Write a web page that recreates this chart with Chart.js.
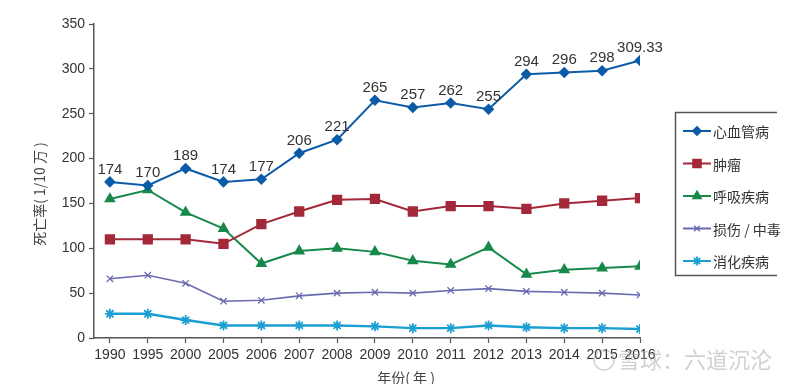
<!DOCTYPE html>
<html>
<head>
<meta charset="utf-8">
<script src="https://cdn.jsdelivr.net/npm/chart.js@4/dist/chart.umd.min.js"></script>
<style>
  html, body { margin: 0; padding: 0; background: #fff; }
  #wrap { width: 800px; height: 384px; }
</style>
</head>
<body>
<div id="wrap"><canvas id="chart" width="800" height="384"></canvas></div>
<script>
/* ============ Data ============ */
const YEARS = ["1990", "1995", "2000", "2005", "2006", "2007", "2008", "2009", "2010", "2011", "2012", "2013", "2014", "2015", "2016"];
const CARDIO = [174, 170, 189, 174, 177, 206, 221, 265, 257, 262, 255, 294, 296, 298, 309.33];
const CARDIO_LABELS = ["174", "170", "189", "174", "177", "206", "221", "265", "257", "262", "255", "294", "296", "298", "309.33"];
const TUMOR = [110, 110, 110, 105, 127, 141, 154, 155, 141, 147, 147, 144, 150, 153, 156];
const RESP = [155, 165, 140, 122, 83, 97, 100, 96, 86, 82, 101, 71, 76, 78, 80];
const INJURY = [66, 70, 61, 41, 42, 47, 50, 51, 50, 53, 55, 52, 51, 50, 48];
const DIGEST = [27, 27, 20, 14, 14, 14, 14, 13, 11, 11, 14, 12, 11, 11, 10];
const SERIES_NAMES = ["心血管病", "肿瘤", "呼吸疾病", "损伤 / 中毒", "消化疾病"];
const Y_TICKS = [0, 50, 100, 150, 200, 250, 300, 350];

const FONT = "'Liberation Sans', Arial, sans-serif";
const CJK = "'Noto Sans CJK SC', 'Liberation Sans', sans-serif";
const TEXT = "#333";

const pts = arr => arr.map((v, i) => ({x: i, y: v}));

const SERIES = [
    {data: CARDIO, color: "#0c5ba7", style: "rectRot", r: 4.5, bw: 2},
    {data: TUMOR, color: "#a3283a", style: "rect", r: 6, bw: 2},
    {data: RESP, color: "#17894b", style: "triangle", r: 5, bw: 2},
    {data: INJURY, color: "#6a6ab0", style: "crossRot", r: 4.5, bw: 1.6},
    {data: DIGEST, color: "#1a9fd3", style: "star", r: 5, bw: 2.4},
];

/* ============ Plugins ============ */
const valueLabels = {
    id: "valueLabels",
    afterDatasetsDraw(chart) {
        const ctx = chart.ctx;
        const meta = chart.getDatasetMeta(0);
        ctx.save();
        ctx.font = "15px " + FONT;
        ctx.fillStyle = TEXT;
        ctx.textAlign = "center";
        ctx.textBaseline = "bottom";
        meta.data.forEach((p, i) => ctx.fillText(CARDIO_LABELS[i], p.x, p.y - 5));
        ctx.restore();
    }
};

const extras = {
    id: "extras",
    afterDraw(chart) {
        const ctx = chart.ctx;
        ctx.save();
        // axis titles
        ctx.fillStyle = "#444";
        ctx.font = "14px " + CJK;
        ctx.textAlign = "center";
        ctx.textBaseline = "middle";
        ctx.fillText("年份( 年 )", 406, 378);
        ctx.save();
        ctx.translate(40, 194);
        ctx.rotate(-Math.PI / 2);
        ctx.fillText("死亡率( 1/10 万 )", 0, 0);
        ctx.restore();

        // legend box
        ctx.strokeStyle = "#555";
        ctx.lineWidth = 1.5;
        ctx.beginPath();
        ctx.moveTo(777, 112.5);
        ctx.lineTo(675.5, 112.5);
        ctx.lineTo(675.5, 275.5);
        ctx.lineTo(777, 275.5);
        ctx.stroke();

        ctx.font = "14px " + CJK;
        ctx.textAlign = "left";
        SERIES.forEach((s, i) => {
            const y = 131 + i * 32.5;
            ctx.strokeStyle = s.color;
            ctx.lineWidth = 2;
            ctx.beginPath();
            ctx.moveTo(683, y);
            ctx.lineTo(711, y);
            ctx.stroke();
            ctx.fillStyle = s.color;
            ctx.lineWidth = s.style === "crossRot" ? 1.4 : 1.8;
            Chart.helpers.drawPoint(ctx, {pointStyle: s.style, radius: s.r - 0.5, borderWidth: 1}, 697, y);
            ctx.fillStyle = TEXT;
            ctx.fillText(SERIES_NAMES[i], 713, y + 1);
        });

        // watermark
        ctx.fillStyle = "rgba(150,150,150,0.45)";
        ctx.font = "22px " + CJK;
        ctx.textAlign = "left";
        ctx.fillText("雪球：六道沉沦", 618, 360);
        ctx.strokeStyle = "rgba(150,150,150,0.45)";
        ctx.lineWidth = 1.5;
        ctx.beginPath();
        ctx.arc(604, 360, 10, 0, Math.PI * 2);
        ctx.stroke();
        ctx.restore();
    }
};

/* ============ Chart ============ */
new Chart(document.getElementById("chart"), {
    type: "line",
    data: {
        datasets: SERIES.map((s, i) => ({
            label: SERIES_NAMES[i],
            data: pts(s.data),
            borderColor: s.color,
            backgroundColor: s.color,
            borderWidth: s.bw,
            pointStyle: s.style,
            pointRadius: s.r,
            pointBorderColor: s.color,
            pointBackgroundColor: s.color,
            pointBorderWidth: s.style === "crossRot" ? 1.3 : 1.8,
            tension: 0,
            fill: false
        }))
    },
    options: {
        responsive: false,
        animation: false,
        layout: {padding: {left: 34, right: 160, top: 24, bottom: 0}},
        plugins: {legend: {display: false}, tooltip: {enabled: false}},
        scales: {
            x: {
                type: "linear",
                min: -0.42,
                max: YEARS.length - 1,
                afterFit: s => { s.height = 46; },
                afterBuildTicks: s => { s.ticks = YEARS.map((_, i) => ({value: i})); },
                grid: {display: true, drawOnChartArea: false, tickLength: 5, color: "#555", tickWidth: 1.2},
                border: {display: true, color: "#555", width: 1.5},
                ticks: {
                    callback: v => YEARS[v] ?? "",
                    color: TEXT,
                    font: {family: FONT, size: 14},
                    padding: 4,
                    maxRotation: 0,
                    autoSkip: false
                }
            },
            y: {
                min: 0,
                max: 350,
                afterFit: s => { s.width = 60; },
                afterBuildTicks: s => { s.ticks = Y_TICKS.map(v => ({value: v})); },
                grid: {display: true, drawOnChartArea: false, tickLength: 5, color: "#555", tickWidth: 1.2},
                border: {display: true, color: "#555", width: 1.5},
                ticks: {color: TEXT, font: {family: FONT, size: 14}, padding: 4}
            }
        }
    },
    plugins: [valueLabels, extras]
});
</script>
</body>
</html>
